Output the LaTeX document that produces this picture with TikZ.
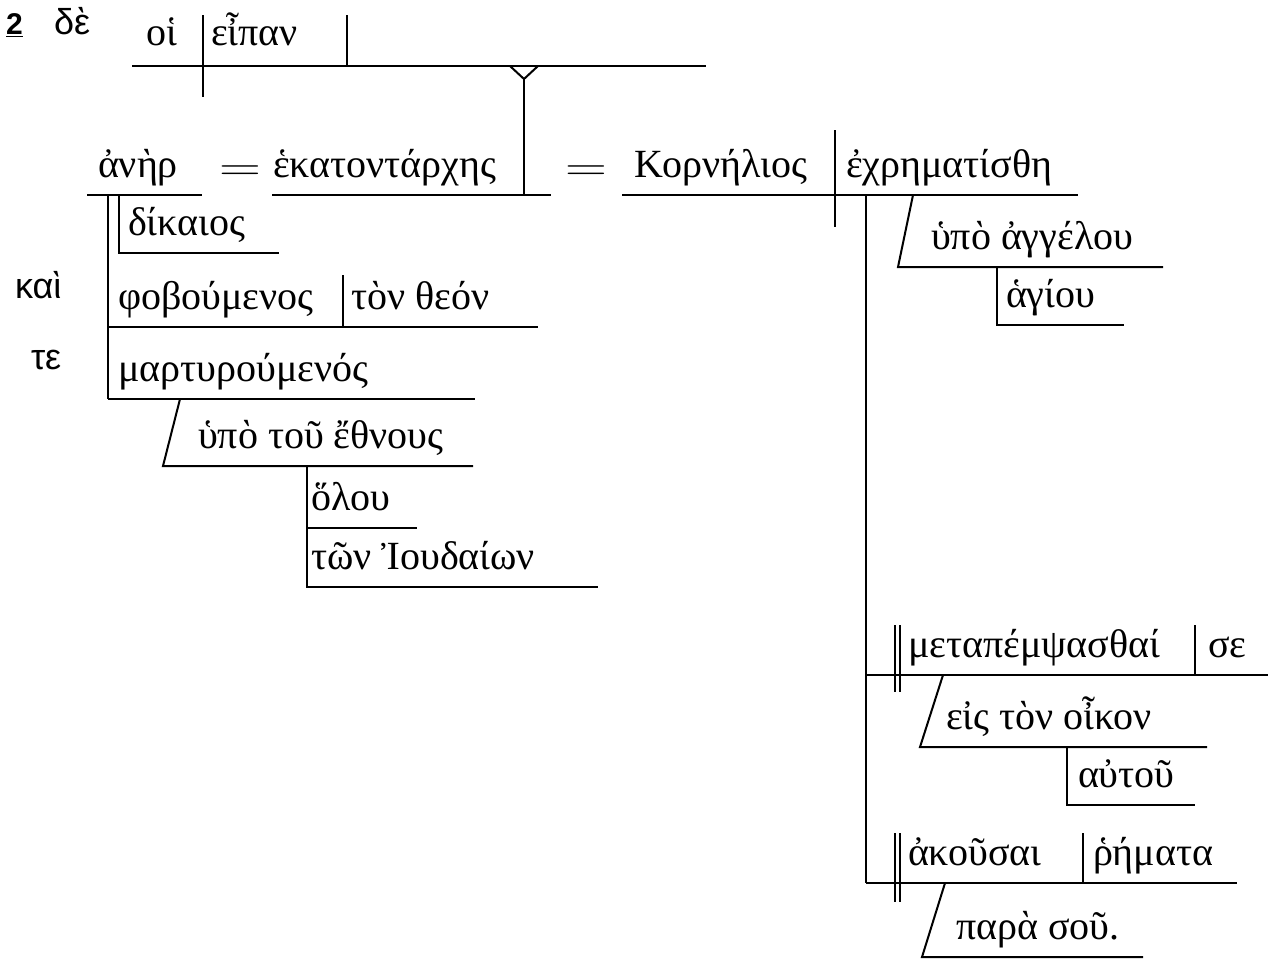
\documentclass[tikz,border=0pt]{standalone}
\usepackage{fontspec}
\setmainfont{Liberation Serif}
\newfontfamily\sansgk{Liberation Sans}
\begin{document}
\begin{tikzpicture}[x=0.5pt,y=-0.5pt,line width=1pt,
  gk/.style={inner sep=0pt,anchor=base west,yshift=-1pt,font=\fontsize{20}{24}\selectfont},
  sg/.style={inner sep=0pt,anchor=base west,font=\sansgk\fontsize{18}{22}\selectfont},
  eq/.style={inner sep=0pt,font=\fontsize{20}{24}\selectfont}]
\useasboundingbox (0,0) rectangle (1277,960);
% top clause
\node[inner sep=0pt,anchor=base west,font=\sansgk\bfseries\fontsize{15}{18}\selectfont] (num) at (5,34) {\underline{2}};
\node[sg] (de) at (53,34) {δὲ};
\node[gk] (hoi) at (145,43) {οἱ};
\node[gk] (eipan) at (210,43) {εἶπαν};
\draw (132,66) -- (706,66);
\draw (203,15) -- (203,97);
\draw (347,15) -- (347,66);
\draw (510,66) -- (524,79) -- (538,66);
\draw (524,79) -- (524,195);
% second clause
\node[gk] (aner) at (97,175) {ἀνὴρ};
\node[eq] (eq1) at (240,173) {\scalebox{1.4}[1]{$=$}};
\node[gk] (hek) at (272,175) {ἑκατοντάρχης};
\node[eq] (eq2) at (586,173) {\scalebox{1.4}[1]{$=$}};
\node[gk] (korn) at (633,175) {Κορνήλιος};
\node[gk] (echr) at (845,175) {ἐχρηματίσθη};
\draw (87,195) -- (202,195);
\draw (272,195) -- (551,195);
\draw (622,195) -- (1078,195);
\draw (835,130) -- (835,227);
% left modifiers
\draw (108,195) -- (108,399);
\draw (119,195) -- (119,253) -- (279,253);
\node[gk] (dik) at (127,233) {δίκαιος};
\node[sg] (kai) at (14,298) {καὶ};
\node[gk] (phob) at (117,307) {φοβούμενος};
\draw (108,327) -- (538,327);
\draw (343,275) -- (343,327);
\node[gk] (theon) at (350,307) {τὸν θεόν};
\node[sg] (te) at (30,369) {τε};
\node[gk] (mart) at (117,379) {μαρτυρούμενός};
\draw (108,399) -- (475,399);
\draw (180,399) -- (163,466) -- (473,466);
\node[gk] (ethn) at (197,446) {ὑπὸ τοῦ ἔθνους};
\draw (307,466) -- (307,587) -- (598,587);
\draw (307,528) -- (417,528);
\node[gk] (holou) at (310,508) {ὅλου};
\node[gk] (iou) at (310,567) {τῶν Ἰουδαίων};
% right side
\draw (866,195) -- (866,883);
\draw (913,195) -- (898,267) -- (1163,267);
\node[gk] (angel) at (930,247) {ὑπὸ ἀγγέλου};
\draw (997,267) -- (997,325) -- (1124,325);
\node[gk] (hagiou) at (1005,305) {ἁγίου};
\draw (866,675) -- (1268,675);
\draw (895,625) -- (895,692);
\draw (900,625) -- (900,692);
\node[gk] (meta) at (907,655) {μεταπέμψασθαί};
\draw (1195,625) -- (1195,675);
\node[gk] (se) at (1207,655) {σε};
\draw (943,675) -- (920,747) -- (1207,747);
\node[gk] (oikon) at (945,727) {εἰς τὸν οἶκον};
\draw (1067,747) -- (1067,805) -- (1195,805);
\node[gk] (autou) at (1077,785) {αὐτοῦ};
\draw (866,883) -- (1237,883);
\draw (895,833) -- (895,902);
\draw (900,833) -- (900,902);
\node[gk] (akous) at (907,863) {ἀκοῦσαι};
\draw (1083,833) -- (1083,883);
\node[gk] (rhem) at (1092,863) {ῥήματα};
\draw (945,883) -- (922,957) -- (1143,957);
\node[gk] (para) at (955,937) {παρὰ σοῦ.};
\end{tikzpicture}
\end{document}
